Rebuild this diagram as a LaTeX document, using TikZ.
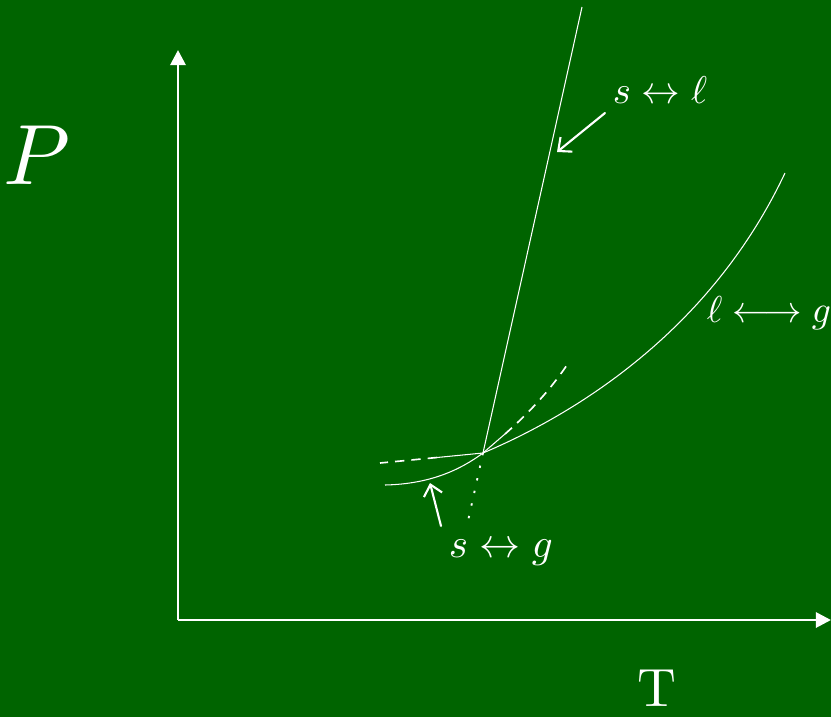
\documentclass[tikz,border=0pt]{standalone}
\usepackage{amsmath}
\usetikzlibrary{arrows.meta}
\definecolor{board}{RGB}{0,100,0}
\tikzset{
  axis/.style={white, line width=2.4pt, -{Triangle[length=13pt,width=13pt]}},
  curve/.style={white, line width=0.9pt},
  dashcurve/.style={white, line width=1.4pt, dash pattern=on 8pt off 6pt},
  dotcurve/.style={white, line width=1.6pt, dash pattern=on 2pt off 9pt},
  pointer/.style={white, line width=1.8pt, line cap=round, -{Straight Barb[length=9pt,width=16pt,line width=1.8pt]}},
  lab/.style={text=white, inner sep=0pt}
}
\begin{document}
\begin{tikzpicture}[x=0.03cm,y=-0.03cm]
\fill[board] (0,0) rectangle (831,717);
\useasboundingbox (0,0) rectangle (831,717);
% axes
\coordinate (O) at (178,620);
\coordinate (Ptop) at (178,50);
\coordinate (Tend) at (831,620);
\draw[axis] (O) -- (Ptop);
\draw[axis] (O) -- (Tend);
% triple point
\coordinate (tp) at (483,453);
% solid-liquid line
\coordinate (sltop) at (582,7);
\coordinate (slbot) at (468,521);
\draw[curve] (tp) -- (sltop);
\draw[dotcurve] (tp) -- (slbot);
% liquid-gas curve
\coordinate (lgend) at (785,173);
\draw[curve] (tp) .. controls (580,412) and (712,328) .. (lgend);
\coordinate (lgmid) at (437,457.5);
\coordinate (lgleft) at (380,463);
\draw[curve] (tp) -- (lgmid);
\draw[dashcurve] (lgmid) -- (lgleft);
% solid-gas curve
\coordinate (sgstart) at (385,485);
\coordinate (sgmeta) at (505,434);
\coordinate (sgend) at (567,365);
\draw[curve] (sgstart) .. controls (430,484) and (460,470) .. (tp);
\draw[curve] (tp) -- (sgmeta);
\draw[dashcurve] (sgmeta) .. controls (530,412) and (550,390) .. (sgend);
% labels
\node[lab, scale=7.3] (P) at (37,155) {$P$};
\node[lab, scale=4.6] (T) at (657,688) {T};
\node[lab, scale=3.3, anchor=base west] (sl) at (612,103) {$s \leftrightarrow \ell$};
\node[lab, scale=3.2, anchor=base west] (lg) at (706,322) {$\ell \longleftrightarrow g$};
\node[lab, scale=3.5, anchor=base west] (sg) at (448,557) {$s \leftrightarrow g$};
% pointers
\coordinate (slp) at (557,152);
\coordinate (sgp) at (430,483);
\draw[pointer] (605,113) -- (slp);
\draw[pointer] (441,526) -- (sgp);
\end{tikzpicture}
\end{document}
